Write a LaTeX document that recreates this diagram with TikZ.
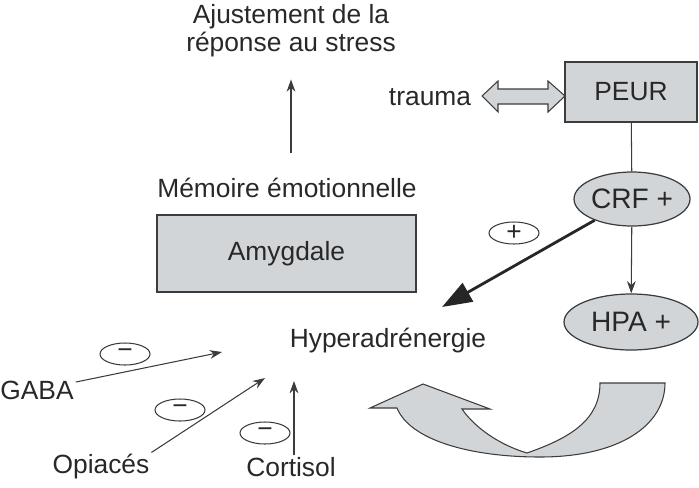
\documentclass[tikz,border=0pt]{standalone}
\usepackage{fontspec}
\setmainfont{Liberation Sans}
\usetikzlibrary{arrows.meta,positioning,shapes.geometric,calc}
\definecolor{boxgray}{RGB}{210,213,215}
\definecolor{linegray}{RGB}{60,60,60}
\definecolor{textgray}{RGB}{40,40,40}

\begin{document}
\begin{tikzpicture}[x=0.02cm,y=-0.02cm,
        font=\fontsize{15}{16}\selectfont, text=textgray,
        label/.style={align=center, inner sep=1pt},
        box/.style={draw=linegray, fill=boxgray, line width=0.8pt},
        hormone/.style={draw=linegray, fill=boxgray, ellipse, inner sep=0pt, line width=0.7pt, font=\fontsize{16}{18}\selectfont},
        sign/.style={draw=linegray, ellipse, minimum width=1cm, minimum height=0.44cm, inner sep=0pt, line width=0.6pt},
        link/.style={draw=linegray, line width=0.6pt, -{Stealth[length=7pt,width=5pt]}}
    ]
    \useasboundingbox (0,0) rectangle (699,487);
    % Haut
    \node[label] (ajust) at (291,31) {Ajustement de la\\réponse au stress};
    \node[label] (memoire) at (287,188) {Mémoire émotionnelle};
    \node[box, minimum width=5.18cm, minimum height=1.54cm] (amyg) at (286.5,253.5) {Amygdale};
    \node[label] (hyper) at (388,341) {Hyperadrénergie};
    % Peur et axe
    \node[box, minimum width=2.64cm, minimum height=1.2cm] (peur) at (631,92) {PEUR};
    \node[label] (trauma) at (430,97) {trauma};
    \node[hormone, minimum width=1.84cm, minimum height=1.08cm] (crf) at (632,199) {CRF +};
    \node[hormone, minimum width=2.68cm, minimum height=1.12cm] (hpa) at (631,322) {HPA +};
    % Entrees
    \node[label] (gaba) at (37,390) {GABA};
    \node[label] (opiaces) at (101,467) {Opiacés};
    \node[label] (cortisol) at (291,467) {Cortisol};
    \node[sign] (plus) at (514,233) {+};
    \node[sign] (moins1) at (125,354) {−};
    \node[sign] (moins2) at (180,410) {−};
    \node[sign] (moins3) at (265,433) {−};
    \coordinate (crf-in) at (442,307);
    \coordinate (gaba-in) at (222,352);
    \coordinate (opi-in) at (265,378);
    \coordinate (cort-in) at (294,381);
    % Connexions
    \draw[link, shorten <=0.46cm, shorten >=0.4cm] (ajust.south |- memoire.north) -- (ajust.south);
    \draw[linegray, line width=0.6pt] (peur) -- (crf);
    \draw[link] (crf) -- (hpa);
    \draw[draw=black!85, line width=1.6pt, -{Triangle[length=17pt,width=12pt]}] (crf) -- (crf-in);
    \draw[link] (gaba) -- (gaba-in);
    \draw[link] (opiaces.north east) -- (opi-in);
    \draw[link] (cortisol.north -| cort-in) -- (cort-in);
    % Double fleche trauma / peur
    \draw[draw=linegray, fill=boxgray, line width=0.6pt]
        (482,96) -- (498,81) -- (498,89) -- (548,89) -- (548,81) -- (565,96)
        -- (548,112) -- (548,104) -- (498,104) -- (498,112) -- cycle;
    % Boucle
    \draw[draw=linegray, fill=boxgray, line width=0.6pt]
        (600,383) -- (665,383)
        .. controls (665,425) and (620,457) .. (540,457)
        .. controls (470,457) and (410,440) .. (397,408)
        -- (370,408) -- (423,384) -- (490,409) -- (462,409)
        .. controls (475,428) and (500,445) .. (527,453)
        .. controls (570,438) and (600,420) .. (600,383) -- cycle;
\end{tikzpicture}
\end{document}
